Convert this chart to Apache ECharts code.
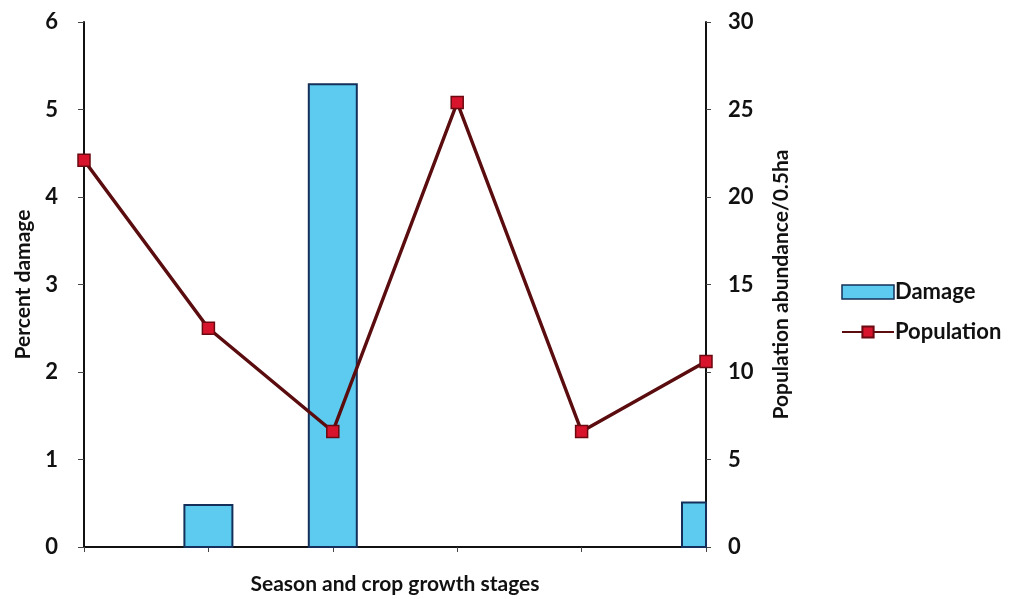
<!DOCTYPE html>
<html><head><meta charset="utf-8">
<script src="https://cdn.jsdelivr.net/npm/echarts@6/dist/echarts.min.js"></script>
<style>html,body{margin:0;padding:0;background:#fff}#c{width:1012px;height:599px}</style>
</head><body><div id="c"></div>
<script>
const categories = ['Stage 1','Stage 2','Stage 3','Stage 4','Stage 5','Stage 6'];
const damage = [null, 0.48, 5.29, null, null, 0.51];
const population = [22.1, 12.5, 6.6, 25.4, 6.6, 10.6];
const leftTicks = [0, 1, 2, 3, 4, 5, 6];
const rightTicks = [0, 5, 10, 15, 20, 25, 30];

const FONT = 'Lato, "Open Sans", sans-serif';
const BAR_W = 48;
const chart = echarts.init(document.getElementById('c'));
chart.setOption({
  animation: false,
  backgroundColor: '#fff',
  grid: { left: 84, right: 306, top: 22, bottom: 52, containLabel: false, outerBoundsMode: 'none' },
  legend: {
    orient: 'vertical', left: 836, top: 276, itemGap: 18,
    itemWidth: 52, itemHeight: 14,
    textStyle: { fontFamily: FONT, fontSize: 22, fontWeight: 'bold', color: '#111', padding: [0, 0, 0, -4] },
    data: [
      { name: 'Damage', icon: 'rect', itemStyle: { color: '#5ccbef', borderColor: '#14305a', borderWidth: 1.5 } },
      { name: 'Population' }
    ]
  },
  xAxis: {
    type: 'category', data: categories, boundaryGap: false,
    name: 'Season and crop growth stages', nameLocation: 'middle', nameGap: 27,
    nameTextStyle: { fontFamily: FONT, fontSize: 21, fontWeight: 'bold', color: '#111' },
    axisLine: { lineStyle: { color: '#111', width: 2 } },
    axisTick: { show: true, length: 5, lineStyle: { color: '#444' } },
    axisLabel: { show: false }
  },
  yAxis: [
    {
      type: 'value', min: 0, max: 6, interval: 1, position: 'left',
      name: 'Percent damage', nameLocation: 'middle', nameGap: 50,
      nameTextStyle: { fontFamily: FONT, fontSize: 21, fontWeight: 'bold', color: '#111' },
      axisLine: { show: true, lineStyle: { color: '#111', width: 2 } },
      axisTick: { show: true, length: 6, lineStyle: { color: '#444' } },
      axisLabel: { fontFamily: FONT, fontSize: 22, fontWeight: 'bold', color: '#111', margin: 26,
        formatter: v => leftTicks.includes(v) ? String(v) : '' },
      splitLine: { show: false }
    },
    {
      type: 'value', min: 0, max: 30, interval: 5, position: 'right',
      name: 'Population abundance/0.5ha', nameLocation: 'middle', nameGap: 65,
      nameTextStyle: { fontFamily: FONT, fontSize: 21, fontWeight: 'bold', color: '#111' },
      axisLine: { show: true, lineStyle: { color: '#111', width: 2 } },
      axisTick: { show: true, length: 5, lineStyle: { color: '#444' } },
      axisLabel: { fontFamily: FONT, fontSize: 22, fontWeight: 'bold', color: '#111', margin: 22,
        formatter: v => rightTicks.includes(v) ? String(v) : '' },
      splitLine: { show: false }
    }
  ],
  series: [
    {
      name: 'Damage', type: 'custom', yAxisIndex: 0,
      data: damage.map((v, i) => [i, v]),
      itemStyle: { color: '#5ccbef', borderColor: '#14305a', borderWidth: 2 },
      renderItem: function (params, api) {
        const v = api.value(1);
        if (v == null || isNaN(v)) return null;
        const base = api.coord([api.value(0), 0]);
        const top = api.coord([api.value(0), v]);
        const cs = params.coordSys;
        const rect = echarts.graphic.clipRectByRect(
          { x: base[0] - BAR_W / 2, y: top[1], width: BAR_W, height: base[1] - top[1] },
          { x: cs.x, y: cs.y - 5, width: cs.width, height: cs.height + 5 }
        );
        if (!rect) return null;
        return { type: 'rect', shape: rect, style: api.style() };
      }
    },
    {
      name: 'Population', type: 'line', yAxisIndex: 1, data: population,
      symbol: 'rect', symbolSize: 12,
      lineStyle: { color: '#5a0c0e', width: 3.5 },
      itemStyle: { color: '#d8142c', borderColor: '#6a0a10', borderWidth: 1.5 }
    }
  ]
});
</script></body></html>
